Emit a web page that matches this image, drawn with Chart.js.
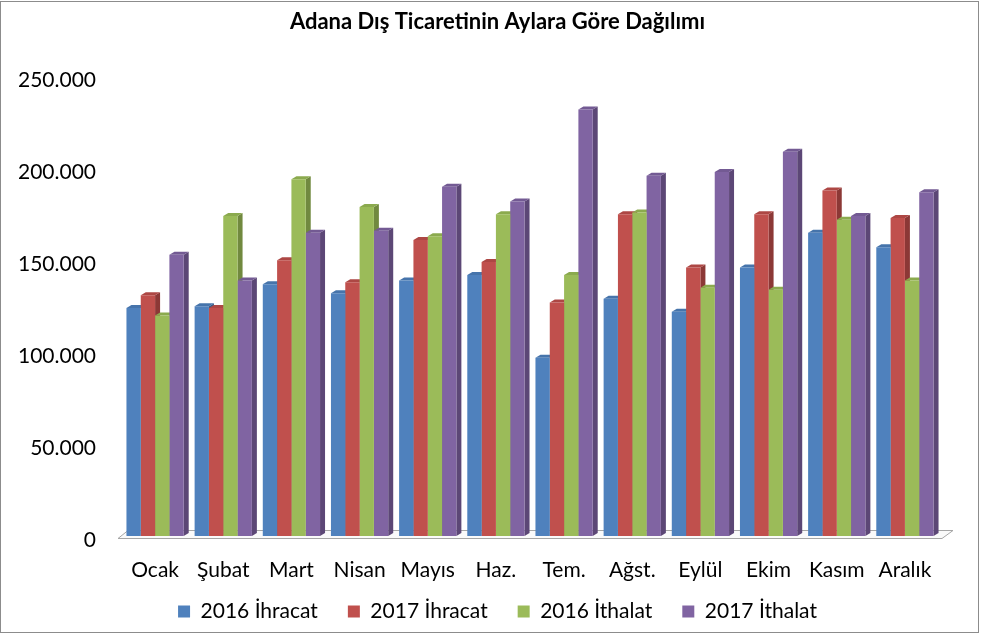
<!DOCTYPE html>
<html>
<head>
<meta charset="utf-8">
<script src="https://cdn.jsdelivr.net/npm/chart.js@4"></script>
<style>
  body { margin: 0; background: #fff; }
  #wrap { position: relative; width: 981px; height: 642px; }
  #frame { position: absolute; left: 0; top: 1px; width: 977px; height: 630px; border: 1px solid #8c8c8c; pointer-events: none; }
</style>
</head>
<body>
<div id="wrap">
  <canvas id="tradeChart" width="981" height="642"></canvas>
  <div id="frame"></div>
</div>
<script>
const months = ["Ocak", "Şubat", "Mart", "Nisan", "Mayıs", "Haz.", "Tem.", "Ağst.", "Eylül", "Ekim", "Kasım", "Aralık"];
const seriesNames = ["2016 İhracat", "2017 İhracat", "2016 İthalat", "2017 İthalat"];

const ihracat2016 = [124000, 125000, 137000, 132000, 139000, 142000, 97000, 129000, 122000, 146000, 165000, 157000];
const ihracat2017 = [131000, 124000, 150000, 138000, 161000, 149000, 127000, 175000, 146000, 175000, 188000, 173000];
const ithalat2016 = [120000, 174000, 194000, 179000, 163000, 175000, 142000, 176000, 135000, 134000, 172000, 139000];
const ithalat2017 = [153000, 139000, 165000, 166000, 190000, 182000, 232000, 196000, 198000, 209000, 174000, 187000];

const yTicks = [0, 50000, 100000, 150000, 200000, 250000];

const faceColors = ["#4F81BD", "#C0504D", "#9BBB59", "#8064A2"];
const sideColors = ["#385D8A", "#8C3836", "#71893F", "#5C4776"];
const topColors = ["#4674AB", "#AD4744", "#8BAA4E", "#735A93"];

const DX = 5, DY = 3;

// fake 3D: floor, sides and tops drawn before the flat faces
const depthPlugin = {
  id: "depth",
  beforeDatasetsDraw(chart) {
    const ctx = chart.ctx;
    const area = chart.chartArea;
    const base = chart.scales.y.getPixelForValue(0);

    ctx.save();
    ctx.strokeStyle = "#a6a6a6";
    ctx.fillStyle = "#fafafa";
    ctx.lineWidth = 1;
    ctx.beginPath();
    ctx.moveTo(area.left - 3, base + 2.5);
    ctx.lineTo(area.right + 3, base + 2.5);
    ctx.lineTo(area.right + 14, base - 5.5);
    ctx.lineTo(area.left + 7, base - 5.5);
    ctx.closePath();
    ctx.fill();
    ctx.stroke();

    chart.data.datasets.forEach((ds, i) => {
      chart.getDatasetMeta(i).data.forEach((bar) => {
        const right = bar.x + bar.width / 2;
        ctx.fillStyle = sideColors[i];
        ctx.beginPath();
        ctx.moveTo(right, bar.y);
        ctx.lineTo(right + DX, bar.y - DY);
        ctx.lineTo(right + DX, bar.base - DY);
        ctx.lineTo(right, bar.base);
        ctx.closePath();
        ctx.fill();
      });
    });
    chart.data.datasets.forEach((ds, i) => {
      chart.getDatasetMeta(i).data.forEach((bar) => {
        const left = bar.x - bar.width / 2;
        const right = bar.x + bar.width / 2;
        ctx.fillStyle = topColors[i];
        ctx.beginPath();
        ctx.moveTo(left, bar.y);
        ctx.lineTo(left + DX, bar.y - DY);
        ctx.lineTo(right + DX, bar.y - DY);
        ctx.lineTo(right, bar.y);
        ctx.closePath();
        ctx.fill();
      });
    });
    ctx.restore();
  }
};

function fmt(v) {
  return String(v).replace(/\B(?=(\d{3})+(?!\d))/g, ".");
}

const seriesData = [ihracat2016, ihracat2017, ithalat2016, ithalat2017];

new Chart(document.getElementById("tradeChart"), {
  type: "bar",
  data: {
    labels: months,
    datasets: seriesNames.map((name, i) => ({
      label: name,
      data: seriesData[i],
      backgroundColor: faceColors[i],
      borderWidth: 0,
      categoryPercentage: 0.84,
      barPercentage: 1.0
    }))
  },
  options: {
    responsive: false,
    animation: false,
    layout: { padding: { left: 14, right: 0, top: 0, bottom: 10 } },
    plugins: {
      title: {
        display: true,
        text: "Adana Dış Ticaretinin Aylara Göre Dağılımı",
        color: "#000",
        font: { family: "Lato", size: 22, weight: "bold" },
        padding: { top: 9, bottom: 41 }
      },
      legend: {
        position: "bottom",
        labels: {
          color: "#000",
          font: { family: "Lato", size: 21 },
          boxWidth: 12,
          boxHeight: 12,
          padding: 30
        }
      },
      tooltip: { enabled: false }
    },
    scales: {
      x: {
        afterFit(scale) {
          // short axis box so the legend sits close; let labels draw past it
          scale.height = 35;
          scale._computeLabelArea = () => undefined;
        },
        grid: { display: false, drawTicks: false },
        border: { display: false },
        ticks: {
          color: "#000",
          font: { family: "Lato", size: 21 },
          padding: 22,
          maxRotation: 0,
          autoSkip: false
        }
      },
      y: {
        min: 0,
        max: 250000,
        afterBuildTicks(scale) {
          scale.ticks = yTicks.map((v) => ({ value: v }));
        },
        afterFit(scale) {
          scale.width = 107;
        },
        grid: { display: false, drawTicks: false },
        border: { display: false },
        ticks: {
          color: "#000",
          font: { family: "Lato", size: 21 },
          padding: 25,
          labelOffset: 4,
          callback: (v) => fmt(v)
        }
      },
      // empty right margin so the plot ends where the reference does
      yRight: {
        position: "right",
        display: true,
        grid: { display: false, drawTicks: false },
        border: { display: false },
        ticks: { display: false },
        afterFit(scale) {
          scale.width = 42;
        }
      }
    }
  },
  plugins: [depthPlugin]
});
</script>
</body>
</html>
